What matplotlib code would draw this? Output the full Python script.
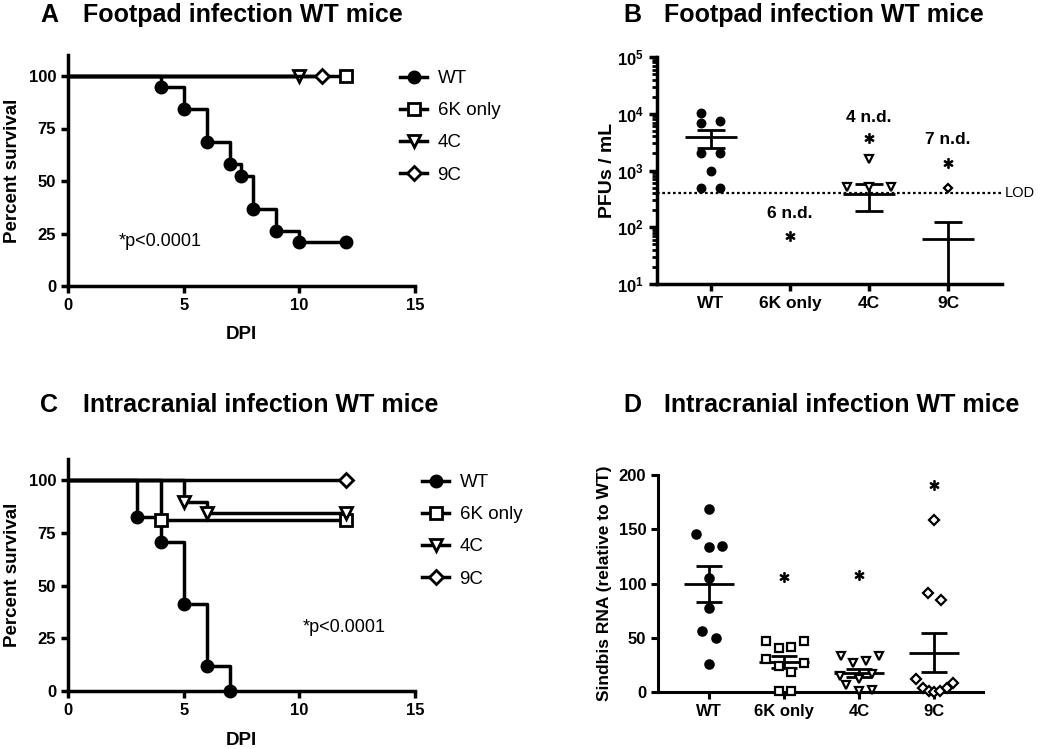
import matplotlib
matplotlib.use('Agg')
import matplotlib.pyplot as plt
import numpy as np
from matplotlib.lines import Line2D
from matplotlib.ticker import LogLocator, FixedLocator, NullFormatter, FuncFormatter

plt.rcParams['font.family'] = ['Liberation Sans', 'DejaVu Sans']
plt.rcParams['mathtext.fontset'] = 'custom'
plt.rcParams['mathtext.rm'] = 'Liberation Sans'
plt.rcParams['mathtext.bf'] = 'Liberation Sans:bold'

groups = ['WT', '6K only', '4C', '9C']

# A: footpad infection, survival curves (day, percent)
a_wt_days = [0, 4, 5, 6, 7, 7.5, 8, 9, 10, 12]
a_wt_surv = [100, 94.7, 84.2, 68.4, 57.9, 52.6, 36.8, 26.3, 21.1, 21.1]
a_6k_days = [0, 12]
a_6k_surv = [100, 100]
a_4c_days = [0, 10]
a_4c_surv = [100, 100]
a_9c_days = [0, 11]
a_9c_surv = [100, 100]

# C: intracranial infection, survival curves
c_wt_days = [0, 3, 4, 5, 6, 7]
c_wt_surv = [100, 82.4, 70.6, 41.2, 11.8, 0]
c_6k_days = [0, 4, 12]
c_6k_surv = [100, 81.3, 81.3]
c_4c_days = [0, 5, 6, 12]
c_4c_surv = [100, 89.5, 84.2, 84.2]
c_9c_days = [0, 12]
c_9c_surv = [100, 100]

# B: footpad titers (PFU/mL)
b_wt = [10300, 7400, 6900, 2000, 2000, 1000, 490, 490]
b_wt_dx = [-0.12, 0.12, -0.12, -0.12, 0.12, 0, -0.12, 0.12]
b_4c = [1600, 510, 510, 510]
b_4c_dx = [0, -0.28, 0, 0.28]
b_9c = [500]
b_9c_dx = [0]
b_mean = [3820, np.nan, 390, 63]
b_sem_hi = [5100, np.nan, 580, 123]
b_sem_lo = [2500, np.nan, 195, 1]
b_nd = ['', '6 n.d.', '4 n.d.', '7 n.d.']
b_nd_y = [np.nan, 178, 8700, 3500]
b_star_y = [np.nan, 70, 3700, 1350]
lod = 400

# D: intracranial Sindbis RNA (relative to WT)
d_wt = [169, 146, 134, 135, 105, 77, 56, 50, 26]
d_wt_dx = [0, -0.17, 0, 0.17, 0, 0, -0.09, 0.09, 0]
d_6k = [47, 47, 40.5, 41.5, 30.4, 24, 18.4, 26.7, 0.5, 0.5]
d_6k_dx = [-0.24, 0.27, -0.07, 0.09, -0.24, -0.07, 0.09, 0.27, -0.07, 0.09]
d_4c = [33, 26.7, 28.6, 33, 14.7, 6.5, 12, 16.6, 0.5, 1.8]
d_4c_dx = [-0.24, -0.08, 0.09, 0.27, -0.25, -0.17, 0, 0.17, 0, 0.17]
d_9c = [158.5, 91, 85, 12, 3.7, 0.9, 0, 0.9, 3.7, 8.3]
d_9c_dx = [0, -0.08, 0.09, -0.24, -0.15, -0.07, 0, 0.08, 0.17, 0.25]
d_star_y = [np.nan, 106, 108, 191]

W, H = 1042, 749
fig = plt.figure(figsize=(W / 100, H / 100), dpi=100)


def px_axes(left, top, right, bottom):
    return fig.add_axes([left / W, 1 - bottom / H, (right - left) / W, (bottom - top) / H])


def style_axes(ax, lw=2.5, size=12):
    for s in ['top', 'right']:
        ax.spines[s].set_visible(False)
    for s in ['left', 'bottom']:
        ax.spines[s].set_linewidth(lw)
    ax.tick_params(width=lw, length=5, labelsize=size)
    for lab in ax.get_xticklabels() + ax.get_yticklabels():
        lab.set_fontweight('bold')


markers = ['o', 's', 'v', 'D']
msizes = [8, 9, 8, 7]


def survival_panel(ax, curves, legend_xy, ptext_xy):
    order = [0, 2, 1, 3]
    for i in order:
        days, surv = curves[i]
        filled = i == 0
        ax.step(days, surv, where='post', color='k', lw=2.5, zorder=2 + i)
        ax.plot(days[1:], surv[1:], ls='none', marker=markers[i], ms=msizes[i],
                mfc='k' if filled else 'white', mec='k', mew=2, zorder=3 + i, clip_on=False)
    ax.set_xlim(0, 15)
    ax.set_ylim(0, 110)
    ax.set_xticks([0, 5, 10, 15])
    ax.set_yticks([0, 25, 50, 75, 100])
    style_axes(ax)
    ax.set_xlabel('DPI', fontsize=13.5, fontweight='bold')
    ax.set_ylabel('Percent survival', fontsize=13.5, fontweight='bold')
    ax.xaxis.set_label_coords(0.5, -0.175)
    ax.yaxis.set_label_coords(-0.135, 0.5)
    handles = [Line2D([], [], color='k', lw=2.5, marker=markers[i], ms=msizes[i],
                      mfc='k' if i == 0 else 'white', mec='k', mew=2) for i in range(4)]
    ax.legend(handles, groups, loc='upper left', bbox_to_anchor=legend_xy,
              bbox_transform=fig.transFigure, frameon=False, fontsize=13.5,
              handlelength=1.45, handletextpad=0.55, labelspacing=0.8, borderpad=0,
              borderaxespad=0)
    ax.text(ptext_xy[0], ptext_xy[1], '*p<0.0001', fontsize=13, va='center')


# Panel A
axA = px_axes(68, 55, 415, 286)
survival_panel(axA, [(a_wt_days, a_wt_surv), (a_6k_days, a_6k_surv),
                     (a_4c_days, a_4c_surv), (a_9c_days, a_9c_surv)],
               (400 / W, 1 - 70 / H), (2.2, 21))

# Panel C
axC = px_axes(68, 459, 415, 691)
survival_panel(axC, [(c_wt_days, c_wt_surv), (c_6k_days, c_6k_surv),
                     (c_4c_days, c_4c_surv), (c_9c_days, c_9c_surv)],
               (422 / W, 1 - 474 / H), (10.15, 30))

# Panel B
axB = px_axes(657, 57, 1002, 284)
axB.set_yscale('log')
axB.set_xlim(-0.68, 3.68)
axB.set_ylim(10, 1e5)
b_pts = [(b_wt, b_wt_dx), ([], []), (b_4c, b_4c_dx), (b_9c, b_9c_dx)]
for i, (vals, dx) in enumerate(b_pts):
    if not vals:
        continue
    axB.plot(i + np.array(dx), vals, ls='none', marker=markers[i], ms=5.5 if i != 3 else 4.5,
             mfc='k' if i == 0 else 'white', mec='k', mew=1.6, zorder=4)
for i in range(4):
    if np.isnan(b_mean[i]):
        continue
    axB.hlines(b_mean[i], i - 0.33, i + 0.33, color='k', lw=2, zorder=3)
    axB.hlines([b_sem_lo[i], b_sem_hi[i]], i - 0.18, i + 0.18, color='k', lw=2, zorder=3)
    axB.vlines(i, b_sem_lo[i], b_sem_hi[i], color='k', lw=2, zorder=3)
for i in range(4):
    if b_nd[i]:
        axB.text(i, b_nd_y[i], b_nd[i], ha='center', va='center', fontsize=12.5, fontweight='bold')
        axB.plot(i, b_star_y[i], ls='none', marker=r'$\ast$', ms=7, color='k')
axB.axhline(lod, color='k', lw=1.6, ls=(0, (1.2, 1.2)), zorder=2)
axB.text(3.72, lod, 'LOD', fontsize=10.5, va='center', ha='left')
axB.set_xticks(range(4))
axB.set_xticklabels(groups)
axB.yaxis.set_major_locator(FixedLocator([1e1, 1e2, 1e3, 1e4, 1e5]))
axB.yaxis.set_major_formatter(FuncFormatter(lambda v, p: r'$\mathbf{10^{%d}}$' % round(np.log10(v))))
axB.yaxis.set_minor_locator(LogLocator(base=10, subs=np.arange(2, 10)))
axB.yaxis.set_minor_formatter(NullFormatter())
style_axes(axB)
axB.tick_params(axis='y', which='minor', width=2, length=3.5)
axB.tick_params(axis='y', which='major', length=6)
axB.tick_params(axis='x', labelsize=12.5)
for lab in axB.get_xticklabels():
    lab.set_fontweight('bold')
axB.set_ylabel('PFUs / mL', fontsize=14, fontweight='bold')
axB.yaxis.set_label_coords(-0.12, 0.5)

# Panel D
axD = px_axes(658, 475, 983, 692)
axD.set_xlim(-0.68, 3.65)
axD.set_ylim(0, 200)
d_pts = [(d_wt, d_wt_dx), (d_6k, d_6k_dx), (d_4c, d_4c_dx), (d_9c, d_9c_dx)]
for i, (vals, dx) in enumerate(d_pts):
    axD.plot(i + np.array(dx), vals, ls='none', marker=markers[i], ms=6 if i != 3 else 5,
             mfc='k' if i == 0 else 'white', mec='k', mew=1.6, zorder=4, clip_on=False)
    v = np.array(vals)
    m = v.mean()
    sem = v.std(ddof=1) / np.sqrt(len(v))
    axD.hlines(m, i - 0.33, i + 0.33, color='k', lw=2, zorder=3)
    axD.hlines([m - sem, m + sem], i - 0.17, i + 0.17, color='k', lw=2, zorder=3)
    axD.vlines(i, m - sem, m + sem, color='k', lw=2, zorder=3)
    if not np.isnan(d_star_y[i]):
        axD.plot(i, d_star_y[i], ls='none', marker=r'$\ast$', ms=7, color='k')
axD.set_xticks(range(4))
axD.set_xticklabels(groups)
axD.set_yticks([0, 50, 100, 150, 200])
style_axes(axD, lw=2.2)
axD.set_ylabel('Sindbis RNA (relative to WT)', fontsize=12.5, fontweight='bold')
axD.yaxis.set_label_coords(-0.14, 0.5)

# panel titles
title_kw = dict(fontsize=18, fontweight='bold', va='center')
fig.text(40 / W, 1 - 15 / H, 'A', **title_kw)
fig.text(83 / W, 1 - 15 / H, 'Footpad infection WT mice', **title_kw)
fig.text(623 / W, 1 - 15 / H, 'B', **title_kw)
fig.text(664 / W, 1 - 15 / H, 'Footpad infection WT mice', **title_kw)
fig.text(40 / W, 1 - 405 / H, 'C', **title_kw)
fig.text(83 / W, 1 - 405 / H, 'Intracranial infection WT mice', **title_kw)
fig.text(623 / W, 1 - 405 / H, 'D', **title_kw)
fig.text(664 / W, 1 - 405 / H, 'Intracranial infection WT mice', **title_kw)

fig.savefig('out.png', dpi=100, facecolor='white')
